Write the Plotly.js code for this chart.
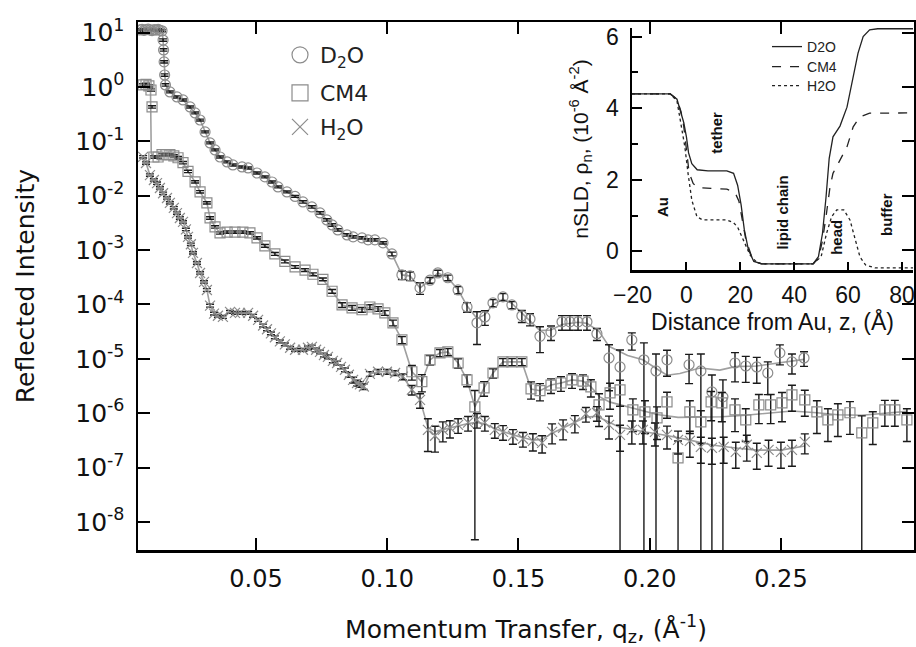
<!DOCTYPE html>
<html><head><meta charset="utf-8">
<script src="https://cdn.plot.ly/plotly-3.0.1.min.js"></script>
<style>html,body{margin:0;padding:0;background:#fff}#chart{width:916px;height:647px}</style>
</head><body><div id="chart"></div>
<script>
// ---------- main panel: reflectivity data (q in 1/Å, R, relative error) ----------
const d2oQ = [0.0058,0.0066,0.0073,0.0081,0.0089,0.0096,0.0104,0.0112,0.0119,0.0127,0.0134,0.0142,0.0146,0.0148,0.0150,0.0152,0.0155,
0.0172,0.0199,0.0222,0.0249,0.0268,0.0287,0.0306,0.0325,0.0344,0.0363,
0.0390,0.0412,0.0447,0.0470,0.0504,0.0534,0.0561,0.0584,0.0618,0.0649,
0.0679,0.0713,0.0744,0.0770,0.0790,0.0812,0.0847,0.0870,0.0904,0.0927,
0.0953,0.0984,0.1018,0.1056,0.1087,0.1125,0.1163,0.1193,0.1231,0.1270,
0.1304,0.1342,0.1372,0.1403,0.1441,0.1475,0.1513,0.1544,0.1582,0.1624,
0.1666,0.1696,0.1727,0.1761,0.1799,0.1845,0.1887,0.1932,0.1978,0.2024,
0.2066,0.2150,0.2195,0.2237,0.2279,0.2325,0.2366,0.2408,0.2450,0.2496,
0.2542,0.2588];
const d2oR = [11.2,11.5,11.0,11.3,11.6,11.2,10.9,11.4,11.1,11.5,11.0,10.8,7.3,4.8,2.9,1.66,1.09,
0.81,0.655,0.577,0.429,0.333,0.247,0.149,0.0935,0.0695,0.0516,
0.0418,0.0368,0.0338,0.0324,0.0262,0.0222,0.0179,0.0145,0.01175,0.0097,
0.00769,0.00622,0.00483,0.00359,0.0029,0.00235,0.0019,0.00175,0.00168,0.00154,
0.00154,0.00136,0.00085,0.00035,0.000335,0.000202,0.00028,0.00038,0.00031,0.000185,
9.0e-5,4.6e-5,5.9e-5,1.07e-4,1.38e-4,9.8e-5,6.2e-5,5.4e-5,2.6e-5,3.1e-5,
4.8e-5,4.8e-5,4.8e-5,4.8e-5,2.9e-5,1.04e-5,7.1e-6,2.23e-5,9.6e-6,6.0e-6,
9.6e-6,7.8e-6,6.0e-6,2.47e-6,2.0e-6,8.4e-6,7.4e-6,7.1e-6,5.5e-6,1.29e-5,
8.8e-6,1.04e-5];
const d2oErr = [0.04,0.04,0.04,0.04,0.04,0.04,0.04,0.04,0.04,0.04,0.04,0.04,0.05,0.05,0.05,0.05,0.05,
0.04,0.04,0.04,0.04,0.04,0.04,0.04,0.04,0.04,0.04,
0.04,0.04,0.04,0.04,0.04,0.04,0.04,0.04,0.04,0.04,
0.05,0.05,0.05,0.05,0.05,0.05,0.05,0.05,0.05,0.05,
0.05,0.05,0.08,0.18,0.18,0.24,0.12,0.12,0.12,0.15,
0.2,0.6,0.3,0.15,0.15,0.15,0.25,0.25,0.5,0.3,
0.3,0.3,0.3,0.3,0.25,0.75,1.05,0.35,1.05,1.05,
0.5,0.55,1.05,1.05,1.05,0.55,0.5,0.5,0.6,0.4,
0.4,0.3];

const cm4Q = [0.0070,0.0081,0.0092,0.0100,0.0104,
0.0111,0.0127,0.0142,0.0157,0.0172,0.0187,0.0203,0.0222,0.0241,0.0268,
0.0287,0.0313,0.0325,0.0344,0.0363,0.0390,0.0420,0.0450,0.0477,0.0504,
0.0534,0.0572,0.0610,0.0649,0.0687,0.0717,0.0755,0.0790,0.0828,0.0866,
0.0904,0.0934,0.0965,0.0991,0.1022,0.1056,0.1094,0.1132,0.1163,0.1201,
0.1231,0.1270,0.1304,0.1334,0.1369,0.1403,0.1441,0.1475,0.1513,0.1548,
0.1582,0.1624,0.1662,0.1704,0.1746,0.1776,
0.1807,0.1849,0.1887,0.1936,0.1982,0.2028,0.2066,0.2108,0.2153,0.2195,
0.2234,0.2275,0.2325,0.2366,0.2416,0.2461,0.2504,0.2542,0.2591,0.2637,
0.2679,0.2717,0.2763,0.2808,0.2850,0.2896,0.2934,0.2980];
const cm4R = [1.09,1.12,1.05,0.88,0.43,
0.0516,0.0516,0.057,0.057,0.057,0.054,0.05,0.0406,0.028,0.018,
0.0118,0.0074,0.0039,0.00267,0.00207,0.00215,0.00215,0.00215,0.00207,0.00168,
0.0012,0.00085,0.00062,0.00049,0.00043,0.00036,0.00029,0.000175,9.8e-5,8.7e-5,
8.0e-5,9.0e-5,8.3e-5,7.0e-5,4.6e-5,2.23e-5,5.8e-6,3.8e-6,9.6e-6,1.29e-5,
1.34e-5,8.4e-6,4.1e-6,1.31e-6,2.93e-6,5.5e-6,8.8e-6,8.8e-6,8.8e-6,2.8e-6,
2.6e-6,3.3e-6,3.6e-6,4.1e-6,3.9e-6,3.06e-6,
1.43e-6,2.37e-6,2.69e-6,1.15e-6,1.06e-6,8.2e-7,1.62e-6,1.51e-7,1.06e-6,6.95e-7,
1.62e-6,1.55e-6,1.15e-6,7.56e-7,1.43e-6,1.43e-6,1.55e-6,2.18e-6,1.76e-6,1.06e-6,
7.56e-7,9.35e-7,1.02e-6,4.36e-7,6.66e-7,1.15e-6,1.15e-6,7.56e-7];
const cm4Err = [0.05,0.05,0.05,0.05,0.05,
0.05,0.05,0.05,0.05,0.05,0.05,0.05,0.05,0.05,0.05,
0.05,0.05,0.05,0.05,0.05,0.05,0.05,0.05,0.05,0.05,
0.06,0.06,0.06,0.06,0.06,0.06,0.06,0.08,0.1,0.1,
0.1,0.1,0.1,0.1,0.12,0.15,0.3,0.35,0.2,0.15,
0.15,0.2,0.25,0.9964,0.3,0.2,0.15,0.15,0.15,0.35,
0.35,0.3,0.3,0.3,0.3,0.35,
0.6,0.5,0.5,0.6,0.6,0.6,0.5,1.05,0.6,0.6,
0.55,0.55,0.6,0.6,0.55,0.55,0.55,0.5,0.5,0.6,
0.6,0.6,0.6,1.05,0.6,0.5,0.5,0.6];

const h2oQ = [0.0070,0.0081,0.0096,0.0111,0.0123,0.0134,0.0146,0.0161,0.0172,0.0187,
0.0199,0.0210,0.0222,0.0233,0.0241,0.0252,0.0260,0.0275,0.0287,0.0302,
0.0313,0.0325,0.0340,0.0355,0.0374,0.0401,0.0420,0.0439,0.0470,0.0489,
0.0508,0.0527,0.0542,0.0557,0.0572,0.0591,0.0610,0.0630,0.0649,0.0679,
0.0698,0.0713,0.0729,0.0744,0.0759,0.0774,0.0793,0.0809,0.0824,0.0839,
0.0854,0.0870,0.0885,0.0896,0.0911,0.0934,0.0965,0.0999,0.1030,0.1060,
0.1094,0.1125,0.1155,0.1182,0.1212,0.1239,0.1270,0.1308,0.1342,0.1372,
0.1410,0.1441,0.1479,0.1517,0.1555,0.1590,0.1628,0.1670,0.1715,0.1757,
0.1799,0.1845,0.1887,0.1932,0.1974,0.2020,0.2066,0.2108,0.2153,0.2195,
0.2237,0.2282,0.2328,0.2370,0.2408,0.2453,0.2500,0.2542,0.2591];
const h2oR = [0.052,0.040,0.024,0.0195,0.017,0.0139,0.0111,0.0091,0.0074,0.0060,
0.0048,0.0039,0.0033,0.0024,0.00175,0.00128,0.00089,0.00058,0.00038,0.00026,
0.000185,9.5e-5,6.8e-5,6.2e-5,5.9e-5,7.3e-5,7.0e-5,7.0e-5,7.0e-5,6.2e-5,
5.2e-5,4.1e-5,3.5e-5,2.95e-5,2.5e-5,2.1e-5,1.85e-5,1.6e-5,1.47e-5,1.47e-5,
1.6e-5,1.66e-5,1.47e-5,1.34e-5,1.18e-5,1.09e-5,9.2e-6,8.4e-6,7.1e-6,6.3e-6,
5.1e-6,4.1e-6,3.6e-6,3.4e-6,3.1e-6,5.3e-6,5.8e-6,5.8e-6,5.5e-6,4.7e-6,
2.7e-6,1.76e-6,4.95e-7,3.85e-7,4.95e-7,5.4e-7,6.1e-7,6.7e-7,7.6e-7,6.7e-7,
4.95e-7,4.55e-7,3.85e-7,3.4e-7,3.1e-7,2.86e-7,4.55e-7,5.4e-7,6.7e-7,9.8e-7,
1.02e-6,6.1e-7,4.0e-7,4.95e-7,4.95e-7,4.55e-7,4.0e-7,3.24e-7,3.1e-7,2.41e-7,
2.31e-7,2.41e-7,1.95e-7,2.63e-7,1.87e-7,2.12e-7,1.95e-7,2.12e-7,2.98e-7];
const h2oErr = [0.05,0.05,0.05,0.05,0.05,0.05,0.05,0.05,0.05,0.05,
0.05,0.05,0.05,0.05,0.05,0.05,0.05,0.05,0.05,0.05,
0.06,0.06,0.06,0.06,0.06,0.06,0.06,0.06,0.06,0.06,
0.06,0.06,0.06,0.06,0.06,0.06,0.06,0.06,0.06,0.06,
0.08,0.08,0.08,0.08,0.08,0.08,0.08,0.08,0.08,0.08,
0.1,0.12,0.12,0.12,0.12,0.1,0.1,0.1,0.1,0.12,
0.2,0.3,0.6,0.5,0.4,0.35,0.3,0.3,0.3,0.3,
0.3,0.3,0.3,0.3,0.35,0.35,0.4,0.4,0.35,0.3,
0.3,0.45,0.5,0.45,0.45,0.45,0.45,0.45,0.5,0.5,
0.5,0.5,0.5,0.5,0.5,0.5,0.5,0.5,0.4];

// fitted curves (gray lines)
const d2oFitQ = d2oQ.slice(0,57).concat([0.1304,0.1342,0.1372,0.1403,0.1441,0.1475,0.1513,0.1544,0.1582,0.1624,0.1666,0.1727,0.1761,0.1807,0.1845,0.1916,0.1974,0.2028,0.2066,0.2115,0.2191,0.2267,0.2325,0.2408,0.2496,0.2588]);
const d2oFitR = d2oR.slice(0,57).concat([9.5e-5,5.5e-5,6.5e-5,1.0e-4,1.25e-4,1.05e-4,7.0e-5,5.0e-5,3.3e-5,3.4e-5,4.3e-5,4.7e-5,4.5e-5,3.2e-5,1.7e-5,1.15e-5,9.6e-6,6.5e-6,5.0e-6,5.4e-6,6.8e-6,6.2e-6,7.2e-6,7.4e-6,8.4e-6,9.8e-6]);
const cm4FitQ = [0.0070,0.0098,0.0101].concat(cm4Q.slice(5,61)).concat([0.1810,0.1849,0.1936,0.2028,0.2108,0.2191,0.2275,0.2366,0.2461,0.2542,0.2637,0.2717,0.2808,0.2896,0.2980]);
const cm4FitR = [1.09,1.0,0.06].concat(cm4R.slice(5,61)).concat([2.0e-6,1.6e-6,1.25e-6,9.5e-7,8.4e-7,8.4e-7,8.6e-7,9.2e-7,1.0e-6,1.1e-6,1.02e-6,9.4e-7,9.2e-7,1.0e-6,1.08e-6]);
const h2oFitQ = h2oQ.slice(0,62).concat([0.1155,0.1182,0.1212,0.1270,0.1308,0.1342,0.1372,0.1410,0.1479,0.1555,0.1590,0.1628,0.1670,0.1715,0.1757,0.1799,0.1845,0.1887,0.1974,0.2066,0.2153,0.2237,0.2328,0.2408,0.2500,0.2591]);
const h2oFitR = h2oR.slice(0,62).concat([5.5e-7,4.6e-7,5.0e-7,6.0e-7,6.5e-7,6.8e-7,6.4e-7,5.2e-7,4.0e-7,3.2e-7,3.3e-7,4.3e-7,5.4e-7,6.7e-7,8.5e-7,8.8e-7,7.0e-7,5.5e-7,4.6e-7,3.9e-7,3.2e-7,2.6e-7,2.3e-7,2.1e-7,2.1e-7,2.5e-7]);

const xTickVals = [0.05,0.10,0.15,0.20,0.25];
const xTickText = ['0.05','0.10','0.15','0.20','0.25'];
const yTickVals = [10,1,0.1,0.01,1e-3,1e-4,1e-5,1e-6,1e-7,1e-8];
const yTickText = ['10<sup>1</sup>','10<sup>0</sup>','10<sup>-1</sup>','10<sup>-2</sup>','10<sup>-3</sup>','10<sup>-4</sup>','10<sup>-5</sup>','10<sup>-6</sup>','10<sup>-7</sup>','10<sup>-8</sup>'];

// ---------- inset: nSLD profiles ----------
const zD2O = [-20.2,-6,-3.5,-2,-1,0,0.8,2,4,8,15,17.5,19,20.3,21.5,23,25,28,47,49,50.5,51.8,53,54.4,57,59.6,61.9,63.7,65.6,68,71,84.1];
const rD2O = [4.4,4.4,4.25,3.9,3.6,3.2,2.75,2.45,2.28,2.25,2.25,2.18,1.85,1.3,0.6,0.05,-0.28,-0.35,-0.35,-0.15,0.5,1.5,2.6,3.2,3.5,4.03,4.87,5.54,6.0,6.19,6.22,6.22];
const zCM4 = [-20.2,-6,-3.5,-2,-1,0,1,2.5,4,15,18,19.5,20.5,22,24,26,28,47,49,50.5,52,53.3,54.4,57,59.6,61.9,64.4,68,84.1];
const rCM4 = [4.4,4.4,4.25,3.9,3.5,2.9,2.2,1.9,1.78,1.74,1.65,1.4,1.0,0.35,-0.1,-0.3,-0.35,-0.35,-0.2,0.3,1.07,1.8,2.18,2.55,2.92,3.48,3.76,3.86,3.87];
const zH2O = [-20.2,-6,-3.5,-2.4,-0.6,0.6,2,3.9,6,15,17.5,19,21,23.6,26,28,47,50,52,53.9,55.8,58.4,60.7,62.6,64.4,66.5,70,84.1];
const rH2O = [4.4,4.4,4.2,3.67,2.93,2.18,1.43,0.97,0.88,0.88,0.8,0.68,0.32,-0.1,-0.3,-0.35,-0.35,-0.15,0.5,0.97,1.16,1.16,0.88,0.32,-0.15,-0.38,-0.46,-0.46];
const regionLabels = ['Au','tether','lipid chain','head','buffer'];
const regionZ = [-8.7,11.3,35.8,55.9,74.5];
const regionRho = [1.24,3.31,1.08,0.38,1.02];

// ---------- build ----------
const GRAY = '#8c8c8c', FITGRAY = '#a0a0a0', BAR = '#1a1a1a';
function abs(R, e){ return R.map((v,i)=>v*e[i]); }
function fit(q,R){ return {x:q,y:R,mode:'lines',line:{color:FITGRAY,width:1.6},showlegend:false,hoverinfo:'skip'}; }
function series(q,R,e,sym){
  return {x:q,y:R,mode:'markers',showlegend:false,hoverinfo:'skip',
    marker:{symbol:sym,size:10,color:GRAY,line:{color:GRAY,width:1.2}},
    error_y:{type:'data',array:abs(R,e),symmetric:true,color:BAR,thickness:1.4,width:4}};
}
function legendItem(name,sym,lg){
  return {x:[null],y:[null],mode:'markers',name:name,legend:lg,showlegend:true,
    marker:{symbol:sym,size:16,color:GRAY,line:{color:GRAY,width:1.2}}};
}
function prof(z,r,name,dash,lg){
  return {x:z,y:r,xaxis:'x2',yaxis:'y2',mode:'lines',name:name,legend:lg,
    line:{color:'#222',width:1.3,dash:dash},hoverinfo:'skip'};
}
const traces = [
  fit(d2oFitQ,d2oFitR), fit(cm4FitQ,cm4FitR), fit(h2oFitQ,h2oFitR),
  series(d2oQ,d2oR,d2oErr,'circle-open'),
  series(cm4Q,cm4R,cm4Err,'square-open'),
  series(h2oQ,h2oR,h2oErr,'x-thin-open'),
  legendItem('D<sub>2</sub>O','circle-open','legend'),
  legendItem('CM4','square-open','legend2'),
  legendItem('H<sub>2</sub>O','x-thin-open','legend3'),
  prof(zD2O,rD2O,'D2O','solid','legend4'),
  prof(zCM4,rCM4,'CM4','dash','legend5'),
  prof(zH2O,rH2O,'H2O','dot','legend6')
];
const MFONT = 'DejaVu Sans, Verdana, sans-serif';
const IFONT = 'Liberation Sans, Arial, Helvetica, sans-serif';
const legBase = {xanchor:'left',yanchor:'middle',bgcolor:'rgba(0,0,0,0)',borderwidth:0,font:{size:22,color:'#222',family:MFONT}};
const insLeg = {x:0.8106,xanchor:'left',yanchor:'middle',bgcolor:'rgba(0,0,0,0)',borderwidth:0,font:{size:14,color:'#222',family:IFONT}};
const layout = {
  width:916,height:647,margin:{l:138,r:2,t:22,b:97},
  paper_bgcolor:'#fff',plot_bgcolor:'rgba(0,0,0,0)',
  font:{family:MFONT,color:'#111'},
  showlegend:true,
  legend:Object.assign({x:0.183,y:0.9375},legBase),
  legend2:Object.assign({x:0.183,y:0.8655},legBase),
  legend3:Object.assign({x:0.183,y:0.801},legBase),
  legend4:Object.assign({y:(550-47)/528},insLeg),
  legend5:Object.assign({y:(550-67)/528},insLeg),
  legend6:Object.assign({y:(550-86)/528},insLeg),
  xaxis:{range:[0.00505,0.3007],tickvals:xTickVals,ticktext:xTickText,ticks:'inside',ticklen:12,tickwidth:2,tickcolor:'#000',
    showline:true,linewidth:2.5,linecolor:'#000',mirror:'ticks',showgrid:false,zeroline:false,
    tickfont:{size:24,color:'#111',family:MFONT},ticklabelstandoff:6,
    title:{text:'Momentum Transfer, q<sub>z</sub>, (Å<sup>-1</sup>)',font:{size:25,color:'#111',family:MFONT},standoff:28}},
  yaxis:{type:'log',range:[-8.515,1.195],tickvals:yTickVals,ticktext:yTickText,ticks:'inside',ticklen:12,tickwidth:2,tickcolor:'#000',
    showline:true,linewidth:2.5,linecolor:'#000',mirror:'ticks',showgrid:false,zeroline:false,
    tickfont:{size:25,color:'#111',family:MFONT},ticklabelstandoff:6,
    title:{text:'Reflected Intensity',font:{size:25,color:'#111',family:MFONT},standoff:34}},
  xaxis2:{domain:[0.6366,0.9987],anchor:'y2',range:[-20.2,84.1],tickvals:[-20,0,20,40,60,80],ticks:'inside',ticklen:8,tickwidth:2,tickcolor:'#000',
    showline:true,linewidth:2.5,linecolor:'#000',showgrid:false,zeroline:false,tickfont:{size:23,color:'#111',family:IFONT},ticklabelstandoff:3,
    title:{text:'Distance from Au, z, (Å)',font:{size:23,color:'#111',family:IFONT},standoff:0}},
  yaxis2:{domain:[0.5303,0.9886],anchor:'x2',range:[-0.52,6.24],tickvals:[0,2,4,6],ticks:'inside',ticklen:10,tickwidth:2,tickcolor:'#000',
    minor:{tickvals:[1,3,5],ticks:'inside',ticklen:6,tickwidth:2,tickcolor:'#000'},
    showline:true,linewidth:2.5,linecolor:'#000',showgrid:false,zeroline:false,tickfont:{size:23,color:'#111',family:IFONT},ticklabelstandoff:6,
    title:{text:'nSLD, ρ<sub>n</sub>, (10<sup>-6</sup> Å<sup>-2</sup>)',font:{size:21,color:'#111',family:IFONT},standoff:12}},
  annotations:regionLabels.map((t,i)=>({x:regionZ[i],y:regionRho[i],xref:'x2',yref:'y2',text:'<b>'+t+'</b>',showarrow:false,textangle:-90,font:{size:15,color:'#111',family:IFONT}}))
};
Plotly.newPlot('chart',traces,layout,{displayModeBar:false,staticPlot:true});
</script></body></html>
